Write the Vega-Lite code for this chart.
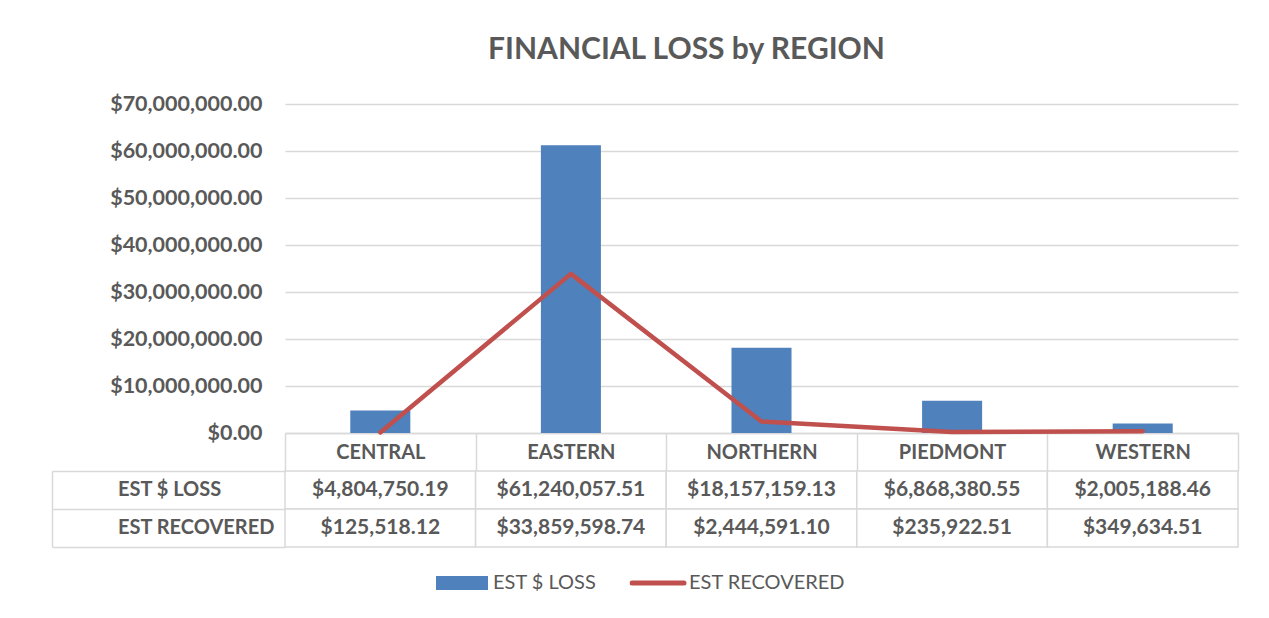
{
  "$schema": "https://vega.github.io/schema/vega-lite/v6.json",
  "width": 953,
  "height": 443,
  "autosize": {"type": "none"},
  "padding": {"left": 285, "top": 104, "right": 31, "bottom": 71},
  "background": "white",
  "title": {
    "text": "FINANCIAL LOSS by REGION",
    "font": "Lato",
    "fontSize": 30,
    "fontWeight": "bold",
    "color": "#595959",
    "anchor": "middle",
    "frame": "group",
    "dx": -75,
    "offset": 28
  },
  "data": {
    "values": [
      {"region": "CENTRAL", "EST $ LOSS": 4804750.19, "EST RECOVERED": 125518.12},
      {"region": "EASTERN", "EST $ LOSS": 61240057.51, "EST RECOVERED": 33859598.74},
      {"region": "NORTHERN", "EST $ LOSS": 18157159.13, "EST RECOVERED": 2444591.10},
      {"region": "PIEDMONT", "EST $ LOSS": 6868380.55, "EST RECOVERED": 235922.51},
      {"region": "WESTERN", "EST $ LOSS": 2005188.46, "EST RECOVERED": 349634.51}
    ]
  },
  "encoding": {
    "x": {
      "field": "region",
      "type": "nominal",
      "sort": ["CENTRAL", "EASTERN", "NORTHERN", "PIEDMONT", "WESTERN"],
      "scale": {"type": "band", "domain": ["CENTRAL", "EASTERN", "NORTHERN", "PIEDMONT", "WESTERN"], "paddingInner": 0, "paddingOuter": 0},
      "axis": {
        "orient": "bottom",
        "offset": -114,
        "title": null,
        "grid": false,
        "tickBand": "extent",
        "tickSize": 38,
        "tickColor": "#D9D9D9",
        "tickWidth": 1.5,
        "domainColor": "#D9D9D9",
        "domainWidth": 1.5,
        "labelAngle": 0,
        "labelFont": "Lato",
        "labelFontSize": 20,
        "labelFontWeight": "bold",
        "labelColor": "#595959",
        "labelBaseline": "middle",
        "labelPadding": -19
      }
    }
  },
  "layer": [
    {
      "transform": [
        {"fold": ["EST $ LOSS", "EST RECOVERED"], "as": ["series", "amount"]}
      ],
      "layer": [
        {
          "transform": [{"filter": "datum.series === 'EST $ LOSS'"}],
          "mark": {"type": "bar", "width": {"band": 0.315}},
          "encoding": {
            "y": {"field": "amount", "type": "quantitative"},
            "color": {"field": "series", "type": "nominal"}
          }
        },
        {
          "transform": [{"filter": "datum.series === 'EST RECOVERED'"}],
          "mark": {"type": "line", "strokeWidth": 4.5, "strokeCap": "round", "strokeJoin": "round"},
          "encoding": {
            "y": {"field": "amount", "type": "quantitative"},
            "color": {"field": "series", "type": "nominal"}
          }
        }
      ],
      "encoding": {
        "y": {
          "field": "amount",
          "type": "quantitative",
          "scale": {"domain": [0, 70000000], "range": [329, 0], "nice": false, "zero": true},
          "axis": {
            "orient": "left",
            "values": [0, 10000000, 20000000, 30000000, 40000000, 50000000, 60000000, 70000000],
            "format": "$,.2f",
            "title": null,
            "grid": true,
            "gridColor": "#D9D9D9",
            "gridWidth": 1.5,
            "domain": false,
            "ticks": false,
            "labelPadding": 23,
            "labelFont": "Lato",
            "labelFontSize": 21.5,
            "labelFontWeight": "bold",
            "labelColor": "#595959"
          }
        },
        "color": {
          "field": "series",
          "type": "nominal",
          "scale": {"domain": ["EST $ LOSS", "EST RECOVERED"], "range": ["#4F81BD", "#C0504D"]},
          "legend": {
            "title": null,
            "orient": "none",
            "legendX": 148.5,
            "legendY": 469,
            "direction": "horizontal",
            "padding": 0,
            "columnPadding": 33,
            "symbolSize": 2704,
            "symbolStrokeWidth": 5,
            "clipHeight": 20,
            "labelOffset": 2.5,
            "labelFont": "Lato",
            "labelFontSize": 20,
            "labelFontWeight": "normal",
            "labelColor": "#595959",
            "encode": {
              "symbols": {
                "update": {
                  "shape": {"signal": "datum.value === 'EST $ LOSS' ? 'M-0.904,-0.173H0.904V0.173H-0.904Z' : 'M-1,0H1'"},
                  "fill": {"signal": "datum.value === 'EST $ LOSS' ? '#4F81BD' : 'transparent'"},
                  "stroke": {"signal": "datum.value === 'EST $ LOSS' ? 'transparent' : '#C0504D'"},
                  "strokeWidth": {"value": 5},
                  "strokeCap": {"value": "round"},
                  "opacity": {"value": 1}
                }
              }
            }
          }
        }
      }
    },
    {
      "transform": [
        {"fold": ["EST $ LOSS", "EST RECOVERED"], "as": ["row", "value"]}
      ],
      "layer": [
        {
          "mark": {"type": "rect", "stroke": "#D9D9D9", "strokeWidth": 1.5},
          "encoding": {
            "color": {
              "field": "row",
              "type": "nominal",
              "scale": {"range": ["#FFFFFF", "#FFFFFF"]},
              "legend": {
                "title": null,
                "orient": "none",
                "legendX": -227.5,
                "legendY": 375.5,
                "direction": "vertical",
                "padding": 0,
                "rowPadding": 18,
                "symbolSize": 2704,
                "symbolStrokeWidth": 5,
                "symbolOpacity": 0,
                "clipHeight": 20,
                "labelOffset": 3.5,
                "labelFont": "Lato",
                "labelFontSize": 20,
                "labelFontWeight": "bold",
                "labelColor": "#595959"
              }
            }
          }
        },
        {
          "mark": {"type": "text", "font": "Lato", "fontSize": 21, "fontWeight": "bold", "color": "#595959", "baseline": "middle", "align": "center"},
          "encoding": {
            "text": {"field": "value", "type": "quantitative", "format": "$,.2f"}
          }
        }
      ],
      "encoding": {
        "y": {
          "field": "row",
          "type": "nominal",
          "scale": {"type": "band", "domain": ["EST $ LOSS", "EST RECOVERED"], "range": [367, 443], "paddingInner": 0, "paddingOuter": 0},
          "axis": {
            "orient": "left",
            "offset": 233,
            "title": null,
            "labels": false,
            "grid": false,
            "ticks": true,
            "tickBand": "extent",
            "tickSize": -233,
            "tickColor": "#D9D9D9",
            "tickWidth": 1.5,
            "domainColor": "#D9D9D9",
            "domainWidth": 1.5
          }
        }
      }
    }
  ],
  "resolve": {
    "scale": {"y": "independent", "color": "independent"},
    "axis": {"y": "independent"},
    "legend": {"color": "independent"}
  },
  "config": {
    "view": {"stroke": null},
    "font": "Lato"
  }
}
